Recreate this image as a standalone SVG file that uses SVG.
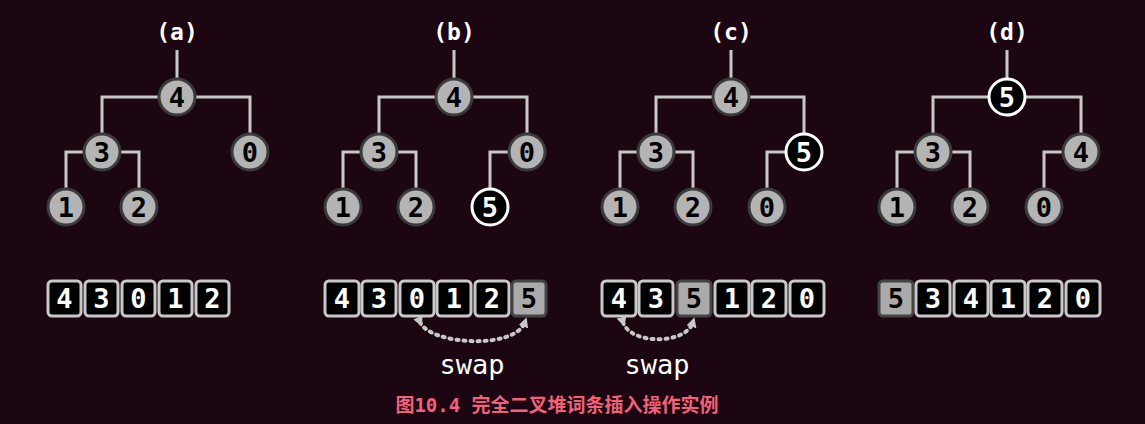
<svg xmlns="http://www.w3.org/2000/svg" width="1145" height="424" viewBox="0 0 1145 424">
<style>
.e{stroke:#c8c8c8;stroke-width:3;fill:none}
.n circle{fill:#b4b4b4;stroke:#3a3a3a;stroke-width:3}
.n text{fill:#000;font:bold 27px "DejaVu Sans Mono",monospace;text-anchor:middle}
.h circle{fill:#000;stroke:#fff;stroke-width:3}
.h text{fill:#fff}
.c rect{fill:#000;stroke:#c8c8c8;stroke-width:3}
.c text{fill:#fff;font:bold 27px "DejaVu Sans Mono",monospace;text-anchor:middle}
.g rect{fill:#aaa;stroke:#444}
.g text{fill:#000}
.lbl{fill:#fff;font:bold 23px "DejaVu Sans Mono",monospace;text-anchor:middle}
.sw{stroke:#c8c8c8;stroke-width:4;stroke-dasharray:2 5;stroke-linecap:round;fill:none}
</style>
<defs>
<marker id="ar" markerWidth="10" markerHeight="10" refX="5" refY="5" orient="auto" markerUnits="userSpaceOnUse"><path d="M0,0 L10,5 L0,10 z" fill="#c8c8c8"/></marker>
</defs>
<rect width="1145" height="424" fill="#1b0612"/>
<g id="connectors">
<path class="e" d="M177,50V80 M177,97H102V135 M177,97H250V135 M102,152H66V190 M102,152H139V190"/>
<path class="e" d="M454,50V80 M454,97H379V135 M454,97H527V135 M379,152H343V190 M379,152H416V190 M527,152H490V190"/>
<path class="e" d="M731,50V80 M731,97H656V135 M731,97H804V135 M656,152H620V190 M656,152H693V190 M804,152H767V190"/>
<path class="e" d="M1007,50V80 M1007,97H933V135 M1007,97H1081V135 M933,152H897V190 M933,152H970V190 M1081,152H1044V190"/>
<path class="sw" d="M420,322 C430,345 515,350 525,322" marker-start="url(#ar)" marker-end="url(#ar)"/>
<path class="sw" d="M623,322 C630,345 686,345 693,322" marker-start="url(#ar)" marker-end="url(#ar)"/>
</g>
<text class="lbl" x="177" y="40">(a)</text>
<text class="lbl" x="454" y="40">(b)</text>
<text class="lbl" x="731" y="40">(c)</text>
<text class="lbl" x="1007" y="40">(d)</text>
<g id="a4" class="n"><circle cx="177" cy="97" r="18"/><text x="177" y="107">4</text></g>
<g id="a3" class="n"><circle cx="102" cy="152" r="18"/><text x="102" y="162">3</text></g>
<g id="a0" class="n"><circle cx="250" cy="152" r="18"/><text x="250" y="162">0</text></g>
<g id="a1" class="n"><circle cx="66" cy="207" r="18"/><text x="66" y="217">1</text></g>
<g id="a2" class="n"><circle cx="139" cy="207" r="18"/><text x="139" y="217">2</text></g>
<g id="b4" class="n"><circle cx="454" cy="97" r="18"/><text x="454" y="107">4</text></g>
<g id="b3" class="n"><circle cx="379" cy="152" r="18"/><text x="379" y="162">3</text></g>
<g id="b0" class="n"><circle cx="527" cy="152" r="18"/><text x="527" y="162">0</text></g>
<g id="b1" class="n"><circle cx="343" cy="207" r="18"/><text x="343" y="217">1</text></g>
<g id="b2" class="n"><circle cx="416" cy="207" r="18"/><text x="416" y="217">2</text></g>
<g id="b5" class="n h"><circle cx="490" cy="207" r="18"/><text x="490" y="217">5</text></g>
<g id="c4" class="n"><circle cx="731" cy="97" r="18"/><text x="731" y="107">4</text></g>
<g id="c3" class="n"><circle cx="656" cy="152" r="18"/><text x="656" y="162">3</text></g>
<g id="c5" class="n h"><circle cx="804" cy="152" r="18"/><text x="804" y="162">5</text></g>
<g id="c1" class="n"><circle cx="620" cy="207" r="18"/><text x="620" y="217">1</text></g>
<g id="c2" class="n"><circle cx="693" cy="207" r="18"/><text x="693" y="217">2</text></g>
<g id="c0" class="n"><circle cx="767" cy="207" r="18"/><text x="767" y="217">0</text></g>
<g id="d5" class="n h"><circle cx="1007" cy="97" r="18"/><text x="1007" y="107">5</text></g>
<g id="d3" class="n"><circle cx="933" cy="152" r="18"/><text x="933" y="162">3</text></g>
<g id="d4" class="n"><circle cx="1081" cy="152" r="18"/><text x="1081" y="162">4</text></g>
<g id="d1" class="n"><circle cx="897" cy="207" r="18"/><text x="897" y="217">1</text></g>
<g id="d2" class="n"><circle cx="970" cy="207" r="18"/><text x="970" y="217">2</text></g>
<g id="d0" class="n"><circle cx="1044" cy="207" r="18"/><text x="1044" y="217">0</text></g>
<g id="arrA" class="c">
<rect x="48" y="281" width="33" height="35" rx="4"/><text x="64.5" y="308">4</text>
<rect x="85" y="281" width="33" height="35" rx="4"/><text x="101.5" y="308">3</text>
<rect x="122" y="281" width="33" height="35" rx="4"/><text x="138.5" y="308">0</text>
<rect x="159" y="281" width="33" height="35" rx="4"/><text x="175.5" y="308">1</text>
<rect x="196" y="281" width="33" height="35" rx="4"/><text x="212.5" y="308">2</text>
</g>
<g id="arrB" class="c">
<rect x="325" y="281" width="34" height="35" rx="4"/><text x="342" y="308">4</text>
<rect x="362" y="281" width="34" height="35" rx="4"/><text x="379" y="308">3</text>
<rect x="400" y="281" width="34" height="35" rx="4"/><text x="417" y="308">0</text>
<rect x="437" y="281" width="34" height="35" rx="4"/><text x="454" y="308">1</text>
<rect x="475" y="281" width="34" height="35" rx="4"/><text x="492" y="308">2</text>
<g class="g"><rect x="512" y="281" width="34" height="35" rx="4"/><text x="529" y="308">5</text></g>
</g>
<g id="arrC" class="c">
<rect x="602" y="281" width="34" height="35" rx="4"/><text x="619" y="308">4</text>
<rect x="639" y="281" width="34" height="35" rx="4"/><text x="656" y="308">3</text>
<g class="g"><rect x="677" y="281" width="34" height="35" rx="4"/><text x="694" y="308">5</text></g>
<rect x="715" y="281" width="34" height="35" rx="4"/><text x="732" y="308">1</text>
<rect x="752" y="281" width="34" height="35" rx="4"/><text x="769" y="308">2</text>
<rect x="790" y="281" width="34" height="35" rx="4"/><text x="807" y="308">0</text>
</g>
<g id="arrD" class="c">
<g class="g"><rect x="879" y="281" width="34" height="35" rx="4"/><text x="896" y="308">5</text></g>
<rect x="916" y="281" width="34" height="35" rx="4"/><text x="933" y="308">3</text>
<rect x="954" y="281" width="34" height="35" rx="4"/><text x="971" y="308">4</text>
<rect x="991" y="281" width="34" height="35" rx="4"/><text x="1008" y="308">1</text>
<rect x="1028" y="281" width="34" height="35" rx="4"/><text x="1045" y="308">2</text>
<rect x="1066" y="281" width="34" height="35" rx="4"/><text x="1083" y="308">0</text>
</g>
<text x="472" y="374" fill="#fff" font-family="DejaVu Sans Mono,monospace" font-size="27" text-anchor="middle">swap</text>
<text x="657" y="374" fill="#fff" font-family="DejaVu Sans Mono,monospace" font-size="27" text-anchor="middle">swap</text>
<text x="557" y="412" fill="#f2617a" font-family="DejaVu Sans Mono,Noto Sans CJK SC,monospace" font-weight="bold" font-size="19" text-anchor="middle">图10.4 完全二叉堆词条插入操作实例</text>
</svg>
